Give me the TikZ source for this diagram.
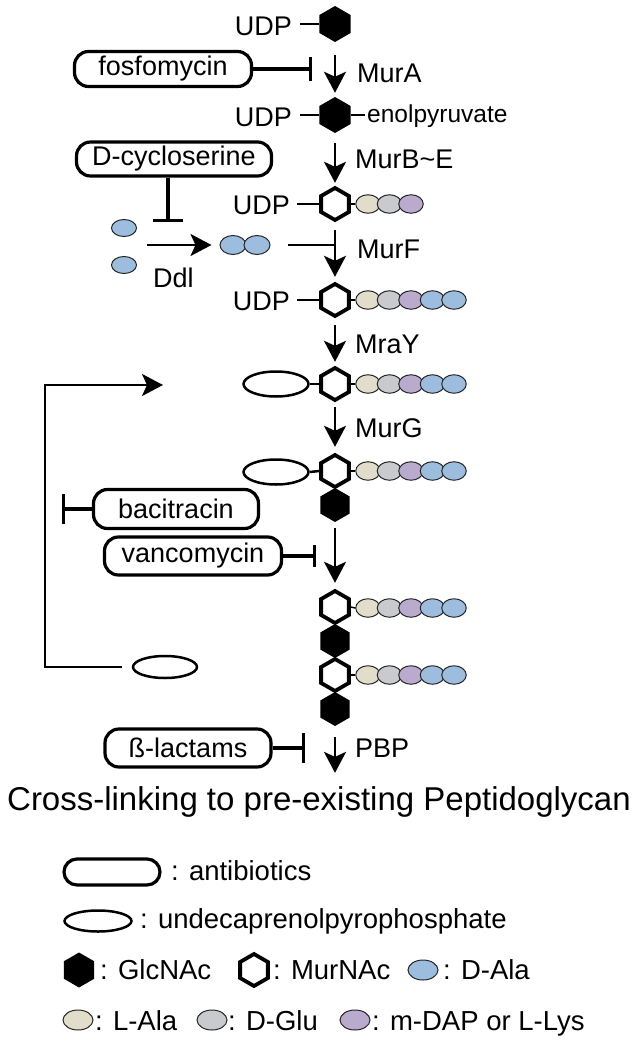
\documentclass[tikz,border=0pt]{standalone}
\usepackage{fontspec}
\setmainfont{Liberation Sans}
\usetikzlibrary{arrows.meta,shapes.geometric}
\definecolor{lala}{RGB}{225,221,202}
\definecolor{dglu}{RGB}{200,202,205}
\definecolor{mdap}{RGB}{186,170,206}
\definecolor{dala}{RGB}{156,189,222}
\newcommand\pepchain[3]{%
  \foreach \c [count=\i] in {#3} {\node[pep,fill=\c] (#1\i) at ({368+21.5*(\i-1)},#2) {};}}
\begin{document}
\begin{tikzpicture}[x=1pt,y=-1pt,
  lab/.style={inner sep=0pt,font=\fontsize{27}{32}\selectfont},
  leg/.style={inner sep=0pt,font=\fontsize{27.5}{32}\selectfont},
  abox/.style={draw,line width=3.2pt,rounded corners=14pt,inner sep=0pt,font=\fontsize{27}{32}\selectfont},
  hexo/.style={regular polygon,regular polygon sides=6,shape border rotate=30,draw,line width=3.8pt,minimum size=32pt,inner sep=0pt,fill=white},
  hexs/.style={regular polygon,regular polygon sides=6,shape border rotate=30,fill=black,minimum size=34pt,inner sep=0pt},
  pep/.style={ellipse,draw=black!85,line width=1pt,minimum width=24.5pt,minimum height=18.5pt,inner sep=0pt},
  lip/.style={ellipse,draw,line width=2.5pt,minimum width=65pt,minimum height=25pt,inner sep=0pt},
  arr/.style={line width=2.3pt,-{Stealth[length=21pt,width=22pt,inset=5pt]}},
  inh/.style={line width=3.2pt,-{Bar[width=#1]}},
  link/.style={line width=2.5pt}
]
\useasboundingbox (0,0) rectangle (638,1043);

% ---- row 1
\node[hexs,minimum size=36pt] (h1) at (335,24) {};
\node[lab,anchor=base east] (u1) at (292,36) {UDP};
\draw[link,shorten >=8pt] (h1.west) -- (h1.west -| u1.east);

\node[abox,minimum width=177pt,minimum height=35pt] (fos) at (163,69) {fosfomycin};
\coordinate (fosbar) at (312,69);
\draw[inh=24pt] (fos.east) -- (fosbar);
\node[lab,anchor=base west] (mura) at (357,83) {MurA};

% ---- row 2
\node[hexs,minimum size=36pt] (h2) at (335,115) {};
\node[lab,anchor=base east] (u2) at (292,127) {UDP};
\draw[link,shorten >=8pt] (h2.west) -- (h2.west -| u2.east);
\node[lab,font=\fontsize{24.5}{28}\selectfont,anchor=base west] (enol) at (367,123) {enolpyruvate};
\draw[link,shorten >=2pt] (h2.east) -- (h2.east -| enol.west);
\draw[arr,shorten <=13pt,shorten >=4pt] (h1.south) -- (h2.north);

% ---- row 3
\node[hexo] (h3) at (335,204) {};
\node[lab,anchor=base east] (u3) at (290,214) {UDP};
\draw[link,shorten >=7pt] (h3.west) -- (h3.west -| u3.east);
\pepchain{p3-}{204}{lala,dglu,mdap}
\draw[line width=1.5pt] (h3.east) -- (p3-1.west);
\draw[arr,shorten <=10pt,shorten >=3pt] (h2.south) -- (h3.north);
\node[lab,anchor=base west] (murbe) at (355,168) {MurB\textasciitilde E};

% D-cycloserine / Ddl
\node[abox,minimum width=195pt,minimum height=34pt] (dcs) at (174,159) {D-cycloserine};
\node[pep,fill=dala,minimum width=25pt,minimum height=17pt] (a1) at (124,228) {};
\node[pep,fill=dala,minimum width=25pt,minimum height=17pt] (a2) at (124,265) {};
\node[pep,fill=dala,minimum width=26pt,minimum height=19pt] (d1) at (233,245) {};
\node[pep,fill=dala,minimum width=26pt,minimum height=19pt] (d2) at (257,245) {};
\coordinate (dcsbar) at (168,222);
\draw[inh=30pt] (dcs.south -| dcsbar) -- (dcsbar);
\draw[arr,shorten <=10pt,shorten >=8pt] (d1.west -| a1.east) -- (d1.west);
\node[lab,anchor=base west] (ddl) at (153,287) {Ddl};

% ---- row 4
\node[hexo] (h4) at (335,300) {};
\node[lab,anchor=base east] (u4) at (290,310) {UDP};
\draw[link,shorten >=7pt] (h4.west) -- (h4.west -| u4.east);
\pepchain{p4-}{300}{lala,dglu,mdap,dala,dala}
\draw[line width=1.5pt] (h4.east) -- (p4-1.west);
\draw[arr,shorten <=8pt,shorten >=5pt] (h3.south) -- (h4.north);
\draw[link,shorten <=17pt] (d2.east) -- (d2.east -| h3.south);
\node[lab,anchor=base west] (murf) at (357,258) {MurF};

% ---- row 5 (lipid I)
\node[hexo] (h5) at (335,384) {};
\node[lip] (l5) at (276,384) {};
\draw[link] (l5.east) -- (h5.west);
\pepchain{p5-}{384}{lala,dglu,mdap,dala,dala}
\draw[line width=1.5pt] (h5.east) -- (p5-1.west);
\draw[arr,shorten <=7pt,shorten >=4pt] (h4.south) -- (h5.north);
\node[lab,anchor=base west] (mray) at (355,353) {MraY};

% ---- row 6 (lipid II)
\node[hexo] (h6) at (335,471) {};
\node[hexs] (g6) at (335,505) {};
\node[lip] (l6) at (276,472) {};
\draw[link] (l6.east) -- (h6.west);
\pepchain{p6-}{471}{lala,dglu,mdap,dala,dala}
\draw[line width=1.5pt] (h6.east) -- (p6-1.west);
\draw[arr,shorten <=5pt,shorten >=6pt] (h5.south) -- (h6.north);
\node[lab,anchor=base west] (murg) at (355,437) {MurG};

% bacitracin / vancomycin
\node[abox,minimum width=165pt,minimum height=39pt] (bac) at (176,509) {bacitracin};
\coordinate (bacbar) at (62,509);
\draw[inh=30pt] (bac.west) -- (bacbar);
\node[abox,minimum width=177pt,minimum height=38pt] (van) at (193,556) {vancomycin};
\coordinate (vanbar) at (316,556);
\draw[inh=22pt] (van.east) -- (vanbar);

% ---- rows 7, 8
\node[hexo] (h7) at (335,607) {};
\node[hexs] (g7) at (335,641) {};
\pepchain{p7-}{608}{lala,dglu,mdap,dala,dala}
\draw[line width=1.5pt] (h7.east) -- (p7-1.west);
\node[hexo] (h8) at (335,675) {};
\node[hexs] (g8) at (335,709) {};
\pepchain{p8-}{675}{lala,dglu,mdap,dala,dala}
\draw[line width=1.5pt] (h8.east) -- (p8-1.west);
\draw[arr,shorten <=6pt,shorten >=6pt] (g6.south) -- (h7.north);

% recycled lipid and feedback
\node[lip,minimum width=64pt,minimum height=22pt] (lb) at (165,667) {};
\coordinate (fbcorner) at (45,385);
\coordinate (fbend) at (163,385);
\draw[line width=2.3pt,-{Stealth[length=21pt,width=22pt,inset=5pt]},shorten <=10pt]
  (lb.west) -- (lb.west -| fbcorner) -- (fbcorner) -- (fbend);

% beta-lactams / PBP
\node[abox,minimum width=166pt,minimum height=38pt] (bl) at (188,748) {ß-lactams};
\coordinate (blbar) at (305,748);
\draw[inh=30pt] (bl.east) -- (blbar);
\node[inner sep=0pt,font=\fontsize{33}{38}\selectfont,anchor=base] (title) at (319,810) {Cross-linking to pre-existing Peptidoglycan};
\draw[arr,shorten <=11pt,shorten >=13pt] (g8.south) -- (title.north -| g8.south);
\node[lab,anchor=base west] (pbp) at (355,757) {PBP};

% ---- legend
\node[abox,rounded corners=13pt,minimum width=96pt,minimum height=26pt] (kab) at (112,872) {};
\node[leg,anchor=base west] (tab) at (171,880) {: antibiotics};
\node[lip,minimum width=67pt,minimum height=21pt] (klip) at (98,921) {};
\node[leg,anchor=base west] (tlip) at (140,928) {: undecaprenolpyrophosphate};
\node[hexs,minimum size=35pt] (kglc) at (79,970) {};
\node[leg,anchor=base west] (tglc) at (100,979) {: GlcNAc};
\node[hexo] (kmur) at (254,970) {};
\node[leg,anchor=base west] (tmur) at (273,979) {: MurNAc};
\node[pep,fill=dala,minimum width=30pt,minimum height=20pt] (kdala) at (423,970) {};
\node[leg,anchor=base west] (tdala) at (443,979) {: D-Ala};
\node[pep,fill=lala,minimum width=30pt,minimum height=20pt] (klala) at (78,1020) {};
\node[leg,anchor=base west] (tlala) at (95,1030) {: L-Ala};
\node[pep,fill=dglu,minimum width=30pt,minimum height=20pt] (kdglu) at (212,1020) {};
\node[leg,anchor=base west] (tdglu) at (228,1030) {: D-Glu};
\node[pep,fill=mdap,minimum width=30pt,minimum height=20pt] (kmdap) at (355,1020) {};
\node[leg,anchor=base west] (tmdap) at (372,1030) {: m-DAP or L-Lys};
\end{tikzpicture}
\end{document}
